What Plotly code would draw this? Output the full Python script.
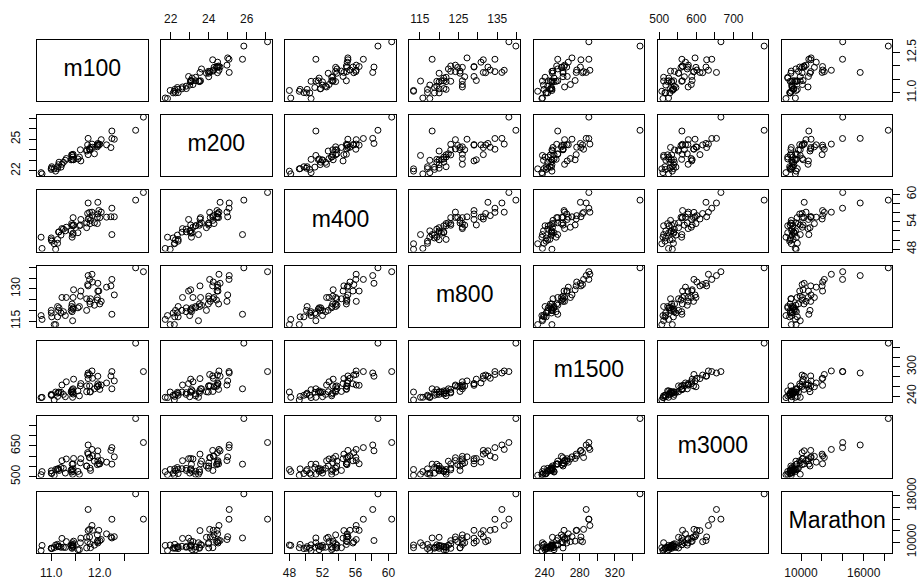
import plotly.graph_objects as go

# Women's national track records (all times in seconds)
names = ["m100", "m200", "m400", "m800", "m1500", "m3000", "Marathon"]

m100 = [11.61, 11.20, 11.43, 11.41, 11.46, 11.31, 12.14, 11.00, 12.00, 11.95, 11.60, 12.90, 11.96, 11.09,
        11.42, 11.79, 11.13, 11.15, 10.81, 11.01, 11.00, 11.79, 11.84, 11.45, 11.95, 11.85, 11.43, 11.45,
        11.29, 11.73, 11.73, 11.96, 12.25, 12.03, 12.23, 11.76, 11.89, 11.25, 11.55, 11.58, 12.25, 11.76,
        11.13, 11.81, 11.44, 12.30, 11.80, 11.16, 11.45, 11.22, 11.75, 11.98, 10.79, 11.06, 12.74]
m200 = [22.94, 22.35, 23.09, 23.04, 23.05, 23.17, 24.47, 22.25, 24.52, 24.41, 24.00, 27.10, 24.60, 21.97,
        23.52, 24.05, 22.39, 22.59, 21.71, 22.39, 22.13, 24.08, 24.54, 23.06, 24.28, 24.24, 23.51, 23.57,
        23.00, 24.00, 23.88, 24.49, 25.78, 24.96, 24.21, 25.08, 23.62, 22.81, 23.13, 23.31, 25.07, 23.54,
        22.21, 24.22, 23.46, 25.00, 23.98, 22.82, 23.31, 22.62, 24.46, 24.44, 21.83, 22.19, 25.85]
m400 = [54.50, 51.08, 50.62, 52.00, 53.30, 52.80, 55.00, 50.06, 54.90, 54.97, 53.26, 60.40, 58.25, 47.99,
        53.60, 56.05, 50.14, 51.73, 48.16, 49.75, 50.46, 54.93, 56.09, 51.50, 53.60, 55.34, 53.24, 54.90,
        52.01, 53.73, 52.70, 55.70, 51.20, 56.10, 55.09, 58.10, 53.76, 52.38, 51.60, 53.12, 56.96, 54.60,
        49.29, 54.30, 51.20, 55.08, 53.59, 51.79, 53.11, 52.50, 55.80, 56.45, 50.62, 49.19, 58.73]
m800 = [129.0, 118.8, 119.4, 120.0, 129.6, 126.0, 130.8, 120.0, 123.0, 124.8, 126.6, 138.0, 132.6, 113.4,
        121.8, 134.4, 121.8, 120.0, 115.8, 117.0, 118.8, 124.2, 136.8, 120.6, 126.0, 133.2, 123.0, 126.0,
        117.6, 125.4, 120.0, 129.0, 118.2, 124.2, 131.4, 136.2, 122.4, 119.4, 121.2, 121.8, 134.4, 131.4,
        117.0, 125.4, 115.2, 127.2, 123.0, 121.2, 121.2, 126.0, 132.0, 129.0, 117.6, 113.4, 139.8]
m1500 = [265.8, 247.8, 253.2, 248.4, 274.8, 269.4, 267.0, 243.6, 253.8, 259.8, 261.0, 290.4, 280.8, 248.4,
         250.8, 284.4, 246.0, 248.4, 237.6, 241.8, 241.8, 261.0, 291.6, 248.4, 259.2, 276.6, 246.6, 255.0,
         238.8, 261.0, 249.0, 265.2, 255.0, 262.8, 281.4, 287.4, 255.0, 243.6, 250.8, 240.6, 290.4, 276.0,
         239.4, 249.6, 237.6, 271.2, 248.4, 247.2, 244.2, 262.8, 283.2, 262.2, 237.0, 232.2, 348.6]
m3000 = [587.4, 544.8, 560.4, 532.8, 588.6, 586.2, 570.6, 528.6, 562.2, 558.6, 567.6, 666.0, 625.8, 535.2,
         522.6, 593.4, 535.2, 538.8, 525.0, 515.4, 517.2, 592.2, 632.4, 538.8, 598.8, 601.2, 533.4, 562.2,
         517.8, 552.0, 552.0, 577.2, 561.0, 578.4, 627.6, 654.0, 575.4, 540.6, 525.6, 511.8, 641.4, 609.6,
         538.2, 530.4, 511.8, 596.4, 541.2, 530.4, 526.2, 577.8, 616.8, 562.8, 510.0, 507.0, 782.4]
marathon = [10711.2, 9142.2, 9562.2, 9471.0, 10198.8, 10125.0, 11461.2, 8967.0, 10282.8, 10108.8, 9925.2,
            13993.2, 10308.0, 9531.0, 9105.0, 12232.8, 9253.8, 9316.2, 9460.8, 8911.8, 8983.2, 10932.0,
            12904.8, 9382.2, 11281.8, 12076.8, 8962.8, 9628.8, 9109.2, 9030.0, 10863.0, 9879.0, 10750.2,
            10480.8, 10930.2, 15667.8, 9511.8, 9148.8, 8728.8, 8728.8, 13980.0, 12022.2, 9649.2, 9072.0,
            9927.0, 10966.2, 9756.0, 9268.8, 9205.2, 10672.2, 10107.0, 12064.8, 8563.2, 9073.2, 18360.0]

data = [m100, m200, m400, m800, m1500, m3000, marathon]

tickvals = [
    [11.0, 11.5, 12.0, 12.5],
    [22, 23, 24, 25, 26, 27],
    [48, 50, 52, 54, 56, 58, 60],
    [115, 120, 125, 130, 135, 140],
    [240, 260, 280, 300, 320, 340],
    [500, 550, 600, 650, 700, 750],
    [10000, 12000, 14000, 16000, 18000],
]
# labels shown on horizontal axes (top/bottom)
hlabels = [
    ["11.0", "", "12.0", ""],
    ["22", "", "24", "", "26", ""],
    ["48", "", "52", "", "56", "", "60"],
    ["115", "", "125", "", "135", ""],
    ["240", "", "280", "", "320", ""],
    ["500", "", "600", "", "700", ""],
    ["10000", "", "", "16000", ""],
]
# labels shown on vertical axes (left/right)
vlabels = [
    ["11.0", "", "", "12.5"],
    ["22", "", "", "25", "", ""],
    ["48", "", "", "54", "", "", "60"],
    ["115", "", "", "130", "", ""],
    ["240", "", "", "300", "", ""],
    ["500", "", "", "650", "", ""],
    ["10000", "", "", "", "18000"],
]

W, H = 919, 581
n = 7
x0, pw, xstep = 37.0, 110.5, 124.15
y0, ph, ystep = 39.5, 61.3, 75.35

def rng(v):
    lo, hi = min(v), max(v)
    d = (hi - lo) * 0.04
    return [lo - d, hi + d]

fig = go.Figure()
layout = {}
FONT = "Liberation Sans, Arial, sans-serif"
tickfont = dict(family=FONT, size=12, color="#111")

for i in range(n):
    for j in range(n):
        k = i * n + j + 1
        xa = "xaxis" if k == 1 else f"xaxis{k}"
        ya = "yaxis" if k == 1 else f"yaxis{k}"
        xr = "x" if k == 1 else f"x{k}"
        yr = "y" if k == 1 else f"y{k}"
        left = x0 + j * xstep
        top = y0 + i * ystep
        xdom = [left / W, (left + pw) / W]
        ydom = [1 - (top + ph) / H, 1 - top / H]
        base = dict(showgrid=False, zeroline=False, showline=True, linecolor="black",
                    linewidth=1, mirror=True, fixedrange=True, automargin=False)
        xd = dict(base, domain=xdom, range=rng(data[j]), anchor=yr)
        yd = dict(base, domain=ydom, range=rng(data[i]), anchor=xr)
        if (i == 0 and j % 2 == 1) or (i == n - 1 and j % 2 == 0):
            xd.update(side="top" if i == 0 else "bottom", ticks="outside", ticklen=7,
                      tickwidth=1, tickcolor="black", tickvals=tickvals[j],
                      ticktext=hlabels[j], tickfont=tickfont, tickangle=0,
                      ticklabelstandoff=4 if i == 0 else 2)
        else:
            xd.update(showticklabels=False, ticks="")
        if (j == 0 and i % 2 == 1) or (j == n - 1 and i % 2 == 0):
            yd.update(side="left" if j == 0 else "right", ticks="outside", ticklen=7,
                      tickwidth=1, tickcolor="black", tickvals=tickvals[i],
                      ticktext=vlabels[i], tickfont=tickfont, tickangle=-90,
                      ticklabelstandoff=4 if j == 0 else 1)
        else:
            yd.update(showticklabels=False, ticks="")
        layout[xa] = xd
        layout[ya] = yd
        if i == j:
            xrng = rng(data[j])
            yrng = rng(data[i])
            fig.add_trace(go.Scatter(
                x=[(xrng[0] + xrng[1]) / 2], y=[(yrng[0] + yrng[1]) / 2],
                mode="text", text=[names[i]], xaxis=xr, yaxis=yr,
                textfont=dict(family=FONT, size=23, color="black"),
                hoverinfo="skip", showlegend=False, cliponaxis=False))
        else:
            fig.add_trace(go.Scatter(
                x=data[j], y=data[i], mode="markers", xaxis=xr, yaxis=yr,
                marker=dict(symbol="circle-open", size=6, color="black",
                            line=dict(width=1, color="black")),
                showlegend=False, hoverinfo="skip"))

fig.update_layout(**layout)
fig.update_layout(width=W, height=H, margin=dict(l=0, r=0, t=0, b=0, autoexpand=False),
                  paper_bgcolor="white", plot_bgcolor="white", showlegend=False)
fig.write_html("out.html", config={"displayModeBar": False},
               post_script="document.body.style.margin='0px';document.body.style.overflow='hidden';")
